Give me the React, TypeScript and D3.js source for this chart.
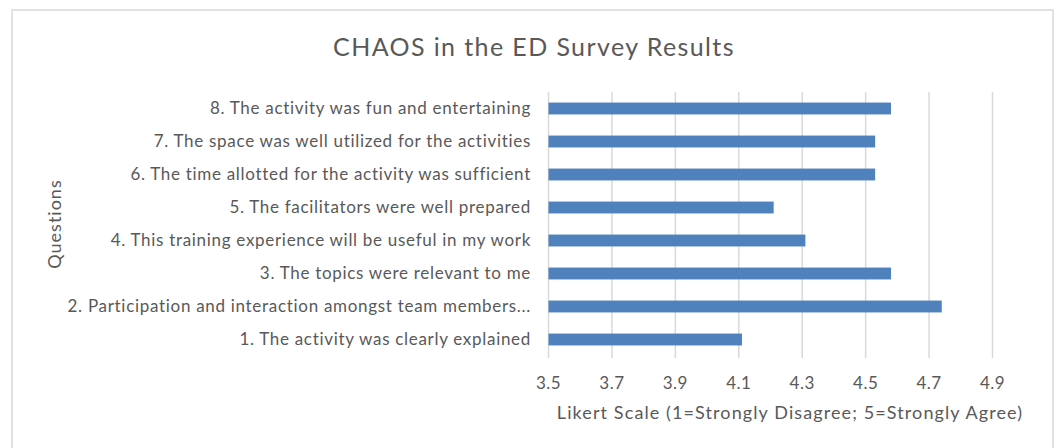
import React from "react";
import * as d3 from "d3";

const questions = [
  "1. The activity was clearly explained",
  "2. Participation and interaction amongst team members...",
  "3. The topics were relevant to me",
  "4. This training experience will be useful in my work",
  "5. The facilitators were well prepared",
  "6. The time allotted for the activity was sufficient",
  "7. The space was well utilized for the activities",
  "8. The activity was fun and entertaining",
];
const scores = [4.11, 4.74, 4.58, 4.31, 4.21, 4.53, 4.53, 4.58];
const ticks = [3.5, 3.7, 3.9, 4.1, 4.3, 4.5, 4.7, 4.9];

const W = 1056;
const H = 448;
const FONT = "Lato, 'Open Sans', sans-serif";

export default function App() {
  const x = d3.scaleLinear().domain([3.5, 4.9]).range([548.5, 992.5]);
  const y = d3
    .scaleBand<string>()
    .domain([...questions].reverse())
    .range([92, 356])
    .paddingInner(0.64)
    .paddingOuter(0.32);
  const gray = "#595959";
  return (
    <svg
      width={W}
      height={H}
      style={{ position: "absolute", left: 0, top: 0, background: "#fff" }}
    >
      <rect x={0} y={0} width={W} height={H} fill="#fff" />
      <rect x={12} y={10} width={1041} height={450} fill="#fff" stroke="#d9d9d9" strokeWidth={1.5} />
      <text
        x={534}
        y={56}
        textAnchor="middle"
        fontFamily={FONT}
        fontSize={25}
        letterSpacing={1.4}
        fill={gray}
      >
        CHAOS in the ED Survey Results
      </text>
      {ticks.map((t) => (
        <line
          key={t}
          x1={x(t)}
          x2={x(t)}
          y1={92}
          y2={358}
          stroke="#d9d9d9"
          strokeWidth={1.5}
        />
      ))}
      {questions.map((q, i) => (
        <rect
          key={q}
          x={x(3.5)}
          y={y(q)!}
          width={x(scores[i]) - x(3.5)}
          height={y.bandwidth()}
          fill="#4F81BD"
        />
      ))}
      {questions.map((q) => (
        <text
          key={q}
          x={531}
          y={y(q)! + y.bandwidth() / 2}
          dy="0.35em"
          textAnchor="end"
          fontFamily={FONT}
          fontSize={17}
          letterSpacing={0.7}
          fill={gray}
        >
          {q}
        </text>
      ))}
      {ticks.map((t) => (
        <text
          key={t}
          x={x(t)}
          y={383}
          dy="0.35em"
          textAnchor="middle"
          fontFamily={FONT}
          fontSize={17}
          letterSpacing={0.5}
          fill={gray}
        >
          {d3.format(".1f")(t)}
        </text>
      ))}
      <text
        x={790}
        y={413}
        dy="0.35em"
        textAnchor="middle"
        fontFamily={FONT}
        fontSize={18}
        letterSpacing={1.1}
        fill={gray}
      >
        Likert Scale (1=Strongly Disagree; 5=Strongly Agree)
      </text>
      <text
        transform={`translate(55,224) rotate(-90)`}
        dy="0.35em"
        textAnchor="middle"
        fontFamily={FONT}
        fontSize={18}
        letterSpacing={1}
        fill={gray}
      >
        Questions
      </text>
    </svg>
  );
}
